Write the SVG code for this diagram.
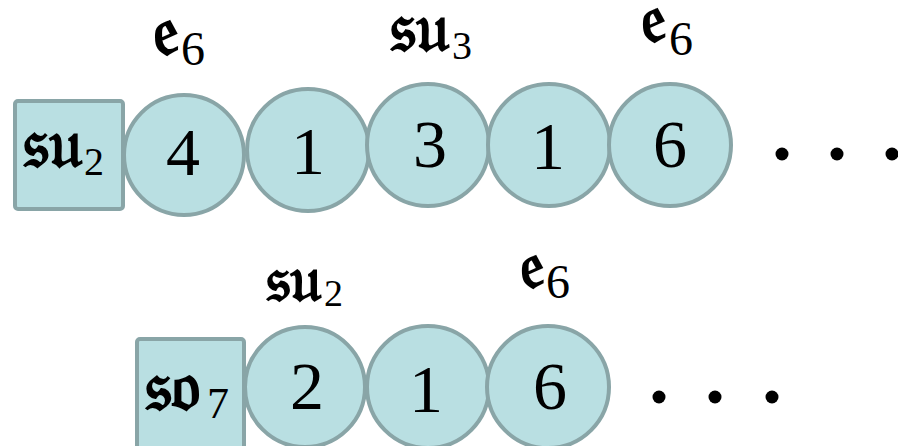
<svg xmlns="http://www.w3.org/2000/svg" width="898" height="446" viewBox="0 0 898 446">
<style>
.node{fill:#b9dfe2;stroke:#89a5a7;stroke-width:4}
.num{font-family:"Liberation Serif","DejaVu Serif",serif;font-size:68px;fill:#000;text-anchor:middle}
.frak{font-family:"DejaVu Serif","Noto Sans",serif;fill:#000;font-weight:bold}
.sub{font-family:"Liberation Serif","DejaVu Serif",serif;fill:#000;font-weight:normal}
.dot{fill:#000}
</style>
<rect width="898" height="446" fill="#fff"/>
<g id="top-row">
<g id="flavor-su2"><rect class="node" x="15" y="101" width="108" height="108" rx="3"/>
<text x="23" y="167" class="frak" font-size="68">𝔰𝔲<tspan class="sub" font-size="40" x="84" y="175">2</tspan></text></g>
<g id="node-4"><circle class="node" cx="184" cy="155" r="60"/><text class="num" x="183" y="175">4</text></g>
<g id="node-1a"><circle class="node" cx="308" cy="150" r="61"/><text class="num" x="308" y="174">1</text></g>
<g id="node-3"><circle class="node" cx="428" cy="145" r="61"/><text class="num" x="430" y="167">3</text></g>
<g id="node-1b"><circle class="node" cx="549" cy="145" r="61"/><text class="num" x="548" y="169">1</text></g>
<g id="node-6"><circle class="node" cx="670" cy="145" r="61"/><text class="num" x="670" y="167">6</text></g>
<g id="label-e6-a"><text x="153" y="55" class="frak" font-size="70">𝔢<tspan class="sub" font-size="48" x="181" y="65">6</tspan></text></g>
<g id="label-su3"><text x="390" y="51" class="frak" font-size="68">𝔰𝔲<tspan class="sub" font-size="40" x="452" y="59">3</tspan></text></g>
<g id="label-e6-b"><text x="641" y="42" class="frak" font-size="68">𝔢<tspan class="sub" font-size="48" x="669" y="55">6</tspan></text></g>
<g id="dots-top"><circle class="dot" cx="782" cy="154" r="6.5"/><circle class="dot" cx="837" cy="154" r="6.5"/><circle class="dot" cx="892" cy="154" r="6.5"/></g>
</g>
<g id="bottom-row">
<g id="flavor-so7"><rect class="node" x="137" y="339" width="107" height="110" rx="3"/>
<text x="145" y="410" class="frak" font-size="70">𝔰𝔬<tspan class="sub" font-size="44" x="207" y="418">7</tspan></text></g>
<g id="node-2"><circle class="node" cx="305" cy="387" r="60"/><text class="num" x="307" y="409">2</text></g>
<g id="node-1c"><circle class="node" cx="428" cy="387" r="61"/><text class="num" x="426" y="412">1</text></g>
<g id="node-6b"><circle class="node" cx="548" cy="387" r="61"/><text class="num" x="550" y="409">6</text></g>
<g id="label-su2"><text x="266" y="301" class="frak" font-size="64">𝔰𝔲<tspan class="sub" font-size="38" x="324" y="306">2</tspan></text></g>
<g id="label-e6-c"><text x="520" y="288" class="frak" font-size="66">𝔢<tspan class="sub" font-size="48" x="546" y="298">6</tspan></text></g>
<g id="dots-bottom"><circle class="dot" cx="659" cy="397" r="6.5"/><circle class="dot" cx="715" cy="397" r="6.5"/><circle class="dot" cx="772" cy="397" r="6.5"/></g>
</g>
</svg>
